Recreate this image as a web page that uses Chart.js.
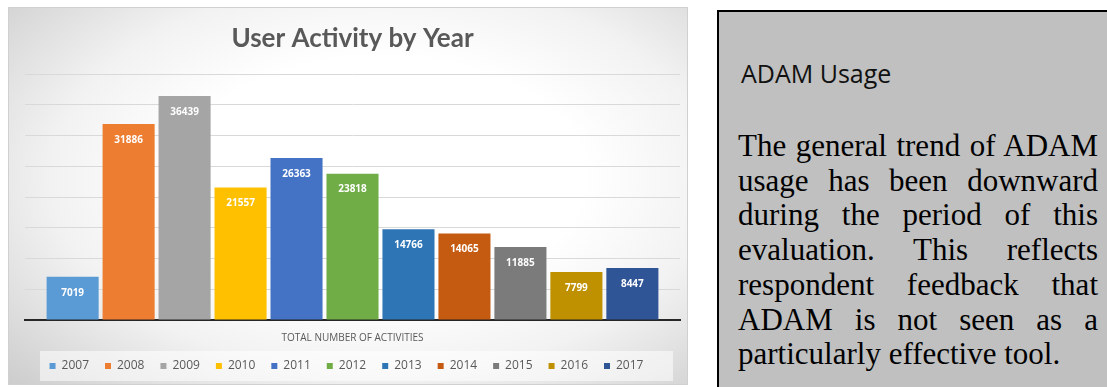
<!DOCTYPE html>
<html>
<head>
<meta charset="utf-8">
<script src="https://cdn.jsdelivr.net/npm/chart.js@4"></script>
<style>
    html, body { margin: 0; padding: 0; background: #fff; width: 1107px; height: 387px; overflow: hidden; }
    #panel {
        position: absolute; left: 8px; top: 7px; width: 680px; height: 378px;
        border: 1px solid #d0d0d0; box-sizing: border-box;
        background: radial-gradient(ellipse 75% 80% at 55% 45%, #ffffff 40%, #f2f2f2 65%, #cdcdcd 100%);
    }
    #note {
        position: absolute; left: 717px; top: 10px; width: 420px; height: 420px;
        background: #c0c0c0; border: 2px solid #000; box-sizing: border-box;
    }
    #note h2 {
        position: absolute; left: 22px; top: 44px; margin: 0;
        font: 400 25px "Open Sans", sans-serif; color: #111; line-height: 34px;
    }
    #note .body {
        position: absolute; left: 19px; top: 117px; width: 360px;
        font: 31px "Liberation Serif", serif; line-height: 34.7px; color: #000;
    }
    #note .body div { text-align: justify; text-align-last: justify; white-space: nowrap; }
    #note .body div.last { text-align-last: left; }
</style>
</head>
<body>
<div id="panel"><canvas id="activityChart" width="678" height="376"></canvas></div>
<div id="note">
    <h2>ADAM Usage</h2>
    <div class="body">
        <div>The general trend of ADAM</div>
        <div>usage has been downward</div>
        <div>during the period of this</div>
        <div>evaluation. This reflects</div>
        <div>respondent feedback that</div>
        <div>ADAM is not seen as a</div>
        <div class="last">particularly effective tool.</div>
    </div>
</div>
<script>
const categories = ['TOTAL NUMBER OF ACTIVITIES'];
const years = ['2007', '2008', '2009', '2010', '2011', '2012', '2013', '2014', '2015', '2016', '2017'];
const activities = [7019, 31886, 36439, 21557, 26363, 23818, 14766, 14065, 11885, 7799, 8447];
const colors = ['#5B9BD5', '#ED7D31', '#A5A5A5', '#FFC000', '#4472C4', '#70AD47',
                '#2E75B6', '#C55A11', '#7B7B7B', '#BF9000', '#2F5597'];

// white value labels near the top of each bar
const barLabels = {
    id: 'barLabels',
    afterDatasetsDraw(chart) {
        const c = chart.ctx;
        c.save();
        c.fillStyle = '#fff';
        c.font = 'bold 10px "Open Sans", sans-serif';
        c.textAlign = 'center';
        c.textBaseline = 'middle';
        chart.data.datasets.forEach((ds, i) => {
            const bar = chart.getDatasetMeta(i).data[0];
            c.fillText(ds.data[0], bar.x, bar.y + 16);
        });
        c.restore();
    }
};

// lighter box behind the legend
const legendBox = {
    id: 'legendBox',
    beforeDraw(chart) {
        const hb = chart.legend.legendHitBoxes[0];
        if (!hb) return;
        const mid = hb.top + hb.height / 2;
        const c = chart.ctx;
        c.save();
        c.fillStyle = 'rgba(255,255,255,0.55)';
        c.fillRect(31, mid - 15, 633, 30);
        c.restore();
    }
};

new Chart(document.getElementById('activityChart'), {
    type: 'bar',
    data: {
        labels: categories,
        datasets: years.map((y, i) => ({
            label: y,
            data: [activities[i]],
            backgroundColor: colors[i],
            categoryPercentage: 0.94,
            barPercentage: 0.93
        }))
    },
    options: {
        responsive: false,
        animation: false,
        layout: { padding: { left: 16, right: 7, top: 4, bottom: 2 } },
        plugins: {
            title: {
                display: true,
                text: 'User Activity by Year',
                color: '#595959',
                font: { family: 'Lato', size: 26, weight: 'bold' },
                padding: { top: 11, bottom: 20 }
            },
            legend: {
                position: 'bottom',
                labels: {
                    boxWidth: 6,
                    boxHeight: 6,
                    padding: 4,
                    color: '#595959',
                    font: { family: 'Open Sans', size: 12 },
                    generateLabels(chart) {
                        // trailing em space widens each entry like the original spacing
                        return Chart.defaults.plugins.legend.labels.generateLabels(chart)
                            .map(item => ({ ...item, text: item.text + '\u2003' }));
                    }
                }
            },
            tooltip: { enabled: false }
        },
        scales: {
            x: {
                grid: { display: false, drawTicks: false },
                border: { color: '#262626', width: 2 },
                ticks: { color: '#595959', font: { family: 'Open Sans', size: 10 }, padding: 12 }
            },
            y: {
                min: 0,
                max: 40000,
                ticks: { display: false, stepSize: 5000 },
                grid: { color: '#d9d9d9', drawTicks: false },
                border: { display: false }
            }
        }
    },
    plugins: [legendBox, barLabels]
});
</script>
</body>
</html>
